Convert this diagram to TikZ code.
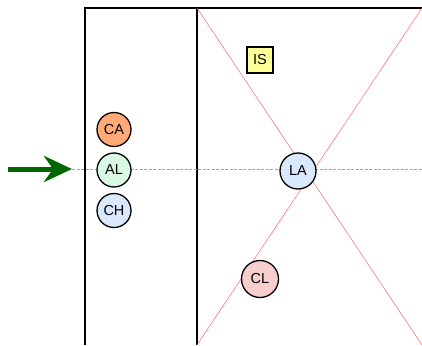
\documentclass[tikz,border=0pt]{standalone}
\usepackage{fontspec}
\setmainfont{Liberation Sans}
\usetikzlibrary{arrows.meta}
\definecolor{caorange}{HTML}{FFAA77}
\definecolor{almint}{HTML}{D8F8E4}
\definecolor{chblue}{HTML}{DAE8FC}
\definecolor{clpink}{HTML}{F8CECC}
\definecolor{isyellow}{HTML}{FFFF99}
\definecolor{arrowgreen}{HTML}{006600}
\definecolor{axisgreen}{HTML}{66CC66}
\tikzset{%
  every station/.style={
    circle,
    draw,
    line width=1.3pt,
    minimum size=34pt,
    inner sep=0pt,
    font=\fontsize{14.5}{16}\selectfont
  },
  station CA/.style={fill=caorange},
  station AL/.style={fill=almint},
  station CH/.style={fill=chblue},
  station LA/.style={fill=chblue},
  station CL/.style={fill=clpink},
  every tag/.style={
    rectangle,
    draw,
    line width=1.3pt,
    fill=isyellow,
    minimum size=26pt,
    inner sep=0pt,
    font=\fontsize{14.5}{16}\selectfont
  },
  wall/.style={line width=2pt},
  cross/.style={red!60, line width=0.5pt},
  axis/.style={axisgreen, dash pattern=on 3pt off 1.5pt, line width=0.8pt}
}
\begin{document}
\begin{tikzpicture}[x=1pt, y=-1pt]
\useasboundingbox (0,0) rectangle (422,345);

% walls
\draw[wall] (85,345) -- (85,8) -- (422,8);
\draw[line width=1.5pt] (197,8) -- (197,345);

% diagonals
\draw[cross] (197,8) -- (422,345);
\draw[cross] (422,8) -- (197,345);

% entry arrow and axis
\coordinate (in) at (8,169);
\coordinate (tip) at (72,169);
\coordinate (out) at (422,169);
\draw[axis] (tip) -- (out);
\draw[arrowgreen, line width=5pt, -{Stealth[length=28pt,width=26pt,inset=9pt]}] (in) -- (tip);

% stations in the left room
\foreach \m [count=\y] in {CA,AL,CH}
  \node [every station/.try, station \m/.try] (\m) at (114,89+\y*40.5) {\m};

% stations in the right room
\node [every station/.try, station LA/.try, minimum size=36pt] (LA) at (298,171) {LA};
\node [every station/.try, station CL/.try, minimum size=37pt] (CL) at (260,279) {CL};
\node [every tag/.try] (IS) at (260,60) {IS};

\end{tikzpicture}
\end{document}
